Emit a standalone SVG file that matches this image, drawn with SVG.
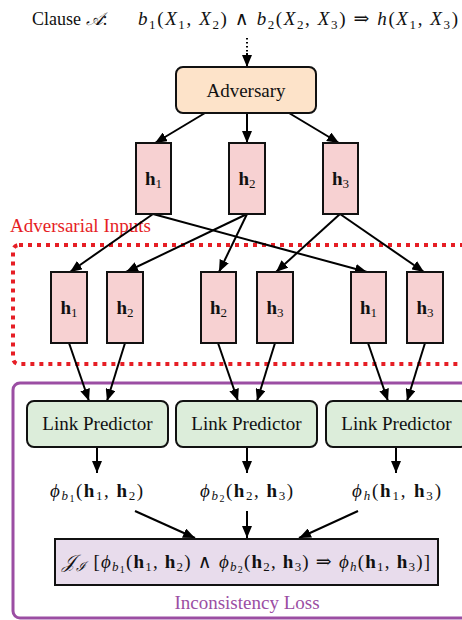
<svg xmlns="http://www.w3.org/2000/svg" width="462" height="620" viewBox="0 0 462 620">
<style>
.t{font-family:"Liberation Serif","DejaVu Serif",serif;font-size:19px;fill:#111}
.m{font-family:"Liberation Serif","DejaVu Serif",serif;font-size:19px;fill:#111}
.i{font-style:italic}
.b{font-weight:bold}
.s{font-size:13px}
.ss{font-size:10px}
.hbox{fill:#f7d1d2;stroke:#111;stroke-width:2}
.lp{fill:#dcedda;stroke:#111;stroke-width:2}
.ln{stroke:#000;stroke-width:2;fill:none}
.c{text-anchor:middle}
</style>
<defs>
<marker id="ah" viewBox="0 0 12 10" refX="12" refY="5" markerWidth="12" markerHeight="10" markerUnits="userSpaceOnUse" orient="auto">
<path d="M0,0 L12,5 L0,10 Z" fill="#000"/>
</marker>
</defs>

<g id="header">
<text class="t" x="32" y="25" style="font-size:18px">Clause <tspan class="i">𝒜</tspan>:</text>
<text class="m" x="138" y="25" textLength="320" lengthAdjust="spacing"><tspan class="i">b</tspan><tspan class="s" dy="4">1</tspan><tspan dy="-4">(</tspan><tspan class="i">X</tspan><tspan class="s" dy="4">1</tspan><tspan dy="-4">, </tspan><tspan class="i">X</tspan><tspan class="s" dy="4">2</tspan><tspan dy="-4">) ∧ </tspan><tspan class="i">b</tspan><tspan class="s" dy="4">2</tspan><tspan dy="-4">(</tspan><tspan class="i">X</tspan><tspan class="s" dy="4">2</tspan><tspan dy="-4">, </tspan><tspan class="i">X</tspan><tspan class="s" dy="4">3</tspan><tspan dy="-4">) ⇒ </tspan><tspan class="i">h</tspan>(<tspan class="i">X</tspan><tspan class="s" dy="4">1</tspan><tspan dy="-4">, </tspan><tspan class="i">X</tspan><tspan class="s" dy="4">3</tspan><tspan dy="-4">)</tspan></text>
</g>

<g id="regions">
<rect id="adversarial-inputs" x="13" y="245" width="470" height="119" rx="6" fill="none" stroke="#e61e25" stroke-width="4" stroke-dasharray="4,5"/>
<text class="t" x="10" y="232" style="fill:#e61e25">Adversarial Inputs</text>
<rect id="inconsistency-region" x="13" y="383" width="470" height="235" rx="7" fill="none" stroke="#9b4ea3" stroke-width="3"/>
<text class="t c" x="247" y="609" style="fill:#9b4ea3">Inconsistency Loss</text>
</g>

<g id="connectors">
<line class="ln" x1="247" y1="38" x2="247" y2="53" stroke-dasharray="1.5,2.5"/>
<line class="ln" x1="247" y1="53" x2="247" y2="67" marker-end="url(#ah)"/>
<line class="ln" x1="205" y1="113" x2="155" y2="143" marker-end="url(#ah)"/>
<line class="ln" x1="247" y1="113" x2="247" y2="143" marker-end="url(#ah)"/>
<line class="ln" x1="289" y1="113" x2="339" y2="143" marker-end="url(#ah)"/>

<line class="ln" x1="153" y1="214" x2="70" y2="272" marker-end="url(#ah)"/>
<line class="ln" x1="153" y1="214" x2="367" y2="272" marker-end="url(#ah)"/>
<line class="ln" x1="247" y1="214" x2="126" y2="272" marker-end="url(#ah)"/>
<line class="ln" x1="247" y1="214" x2="219" y2="272" marker-end="url(#ah)"/>
<line class="ln" x1="340" y1="214" x2="276" y2="272" marker-end="url(#ah)"/>
<line class="ln" x1="340" y1="214" x2="424" y2="272" marker-end="url(#ah)"/>

<line class="ln" x1="69" y1="343" x2="89" y2="401" marker-end="url(#ah)"/>
<line class="ln" x1="125" y1="343" x2="107" y2="401" marker-end="url(#ah)"/>
<line class="ln" x1="218" y1="343" x2="238" y2="401" marker-end="url(#ah)"/>
<line class="ln" x1="275" y1="343" x2="257" y2="401" marker-end="url(#ah)"/>
<line class="ln" x1="368" y1="343" x2="388" y2="401" marker-end="url(#ah)"/>
<line class="ln" x1="425" y1="343" x2="407" y2="401" marker-end="url(#ah)"/>

<line class="ln" x1="97" y1="447" x2="97" y2="473" marker-end="url(#ah)"/>
<line class="ln" x1="247" y1="447" x2="247" y2="473" marker-end="url(#ah)"/>
<line class="ln" x1="396" y1="447" x2="396" y2="473" marker-end="url(#ah)"/>

<line class="ln" x1="135" y1="511" x2="195" y2="538" marker-end="url(#ah)"/>
<line class="ln" x1="247" y1="511" x2="247" y2="538" marker-end="url(#ah)"/>
<line class="ln" x1="358" y1="511" x2="299" y2="538" marker-end="url(#ah)"/>
</g>

<g id="adversary">
<rect x="176" y="67" width="140" height="46" rx="7" fill="#fde3c9" stroke="#111" stroke-width="2"/>
<text class="t c" x="246" y="97">Adversary</text>
</g>

<g id="h1-top"><rect class="hbox" x="136" y="143" width="35" height="71"/><text class="m c" x="153.5" y="185"><tspan class="b">h</tspan><tspan class="s" dy="3">1</tspan></text></g>
<g id="h2-top"><rect class="hbox" x="229" y="143" width="36" height="71"/><text class="m c" x="247" y="185"><tspan class="b">h</tspan><tspan class="s" dy="3">2</tspan></text></g>
<g id="h3-top"><rect class="hbox" x="323" y="143" width="35" height="71"/><text class="m c" x="340.5" y="185"><tspan class="b">h</tspan><tspan class="s" dy="3">3</tspan></text></g>

<g id="h1-a"><rect class="hbox" x="51" y="272" width="36" height="71"/><text class="m c" x="69" y="314"><tspan class="b">h</tspan><tspan class="s" dy="3">1</tspan></text></g>
<g id="h2-a"><rect class="hbox" x="107" y="272" width="36" height="71"/><text class="m c" x="125" y="314"><tspan class="b">h</tspan><tspan class="s" dy="3">2</tspan></text></g>
<g id="h2-b"><rect class="hbox" x="201" y="272" width="35" height="71"/><text class="m c" x="218.5" y="314"><tspan class="b">h</tspan><tspan class="s" dy="3">2</tspan></text></g>
<g id="h3-b"><rect class="hbox" x="257" y="272" width="36" height="71"/><text class="m c" x="275" y="314"><tspan class="b">h</tspan><tspan class="s" dy="3">3</tspan></text></g>
<g id="h1-c"><rect class="hbox" x="351" y="272" width="35" height="71"/><text class="m c" x="368.5" y="314"><tspan class="b">h</tspan><tspan class="s" dy="3">1</tspan></text></g>
<g id="h3-c"><rect class="hbox" x="407" y="272" width="36" height="71"/><text class="m c" x="425" y="314"><tspan class="b">h</tspan><tspan class="s" dy="3">3</tspan></text></g>

<g id="lp1"><rect class="lp" x="27" y="401" width="141" height="46" rx="7"/><text class="t c" x="97.5" y="430">Link Predictor</text></g>
<g id="lp2"><rect class="lp" x="176" y="401" width="141" height="46" rx="7"/><text class="t c" x="246.5" y="430">Link Predictor</text></g>
<g id="lp3"><rect class="lp" x="326" y="401" width="141" height="46" rx="7"/><text class="t c" x="396.5" y="430">Link Predictor</text></g>

<g id="phi1"><text class="m" x="50" y="497" textLength="93" lengthAdjust="spacing"><tspan class="i">ϕ</tspan><tspan class="s i" dy="3">b</tspan><tspan class="ss" dy="2">1</tspan><tspan dy="-5">(</tspan><tspan class="b">h</tspan><tspan class="s" dy="3">1</tspan><tspan dy="-3">, </tspan><tspan class="b">h</tspan><tspan class="s" dy="3">2</tspan><tspan dy="-3">)</tspan></text></g>
<g id="phi2"><text class="m" x="200" y="497" textLength="93" lengthAdjust="spacing"><tspan class="i">ϕ</tspan><tspan class="s i" dy="3">b</tspan><tspan class="ss" dy="2">2</tspan><tspan dy="-5">(</tspan><tspan class="b">h</tspan><tspan class="s" dy="3">2</tspan><tspan dy="-3">, </tspan><tspan class="b">h</tspan><tspan class="s" dy="3">3</tspan><tspan dy="-3">)</tspan></text></g>
<g id="phi3"><text class="m" x="352" y="497" textLength="89" lengthAdjust="spacing"><tspan class="i">ϕ</tspan><tspan class="s i" dy="3">h</tspan><tspan dy="-3">(</tspan><tspan class="b">h</tspan><tspan class="s" dy="3">1</tspan><tspan dy="-3">, </tspan><tspan class="b">h</tspan><tspan class="s" dy="3">3</tspan><tspan dy="-3">)</tspan></text></g>

<g id="loss">
<rect x="55" y="539" width="383" height="46" fill="#e8dcec" stroke="#111" stroke-width="2"/>
<text class="m" x="62" y="568" textLength="368" lengthAdjust="spacing"><tspan class="i">𝒥</tspan><tspan class="s i" dy="3">ℐ</tspan><tspan dy="-3"> [</tspan><tspan class="i">ϕ</tspan><tspan class="s i" dy="3">b</tspan><tspan class="ss" dy="2">1</tspan><tspan dy="-5">(</tspan><tspan class="b">h</tspan><tspan class="s" dy="3">1</tspan><tspan dy="-3">, </tspan><tspan class="b">h</tspan><tspan class="s" dy="3">2</tspan><tspan dy="-3">) ∧ </tspan><tspan class="i">ϕ</tspan><tspan class="s i" dy="3">b</tspan><tspan class="ss" dy="2">2</tspan><tspan dy="-5">(</tspan><tspan class="b">h</tspan><tspan class="s" dy="3">2</tspan><tspan dy="-3">, </tspan><tspan class="b">h</tspan><tspan class="s" dy="3">3</tspan><tspan dy="-3">) ⇒ </tspan><tspan class="i">ϕ</tspan><tspan class="s i" dy="3">h</tspan><tspan dy="-3">(</tspan><tspan class="b">h</tspan><tspan class="s" dy="3">1</tspan><tspan dy="-3">, </tspan><tspan class="b">h</tspan><tspan class="s" dy="3">3</tspan><tspan dy="-3">)]</tspan></text>
</g>
</svg>
